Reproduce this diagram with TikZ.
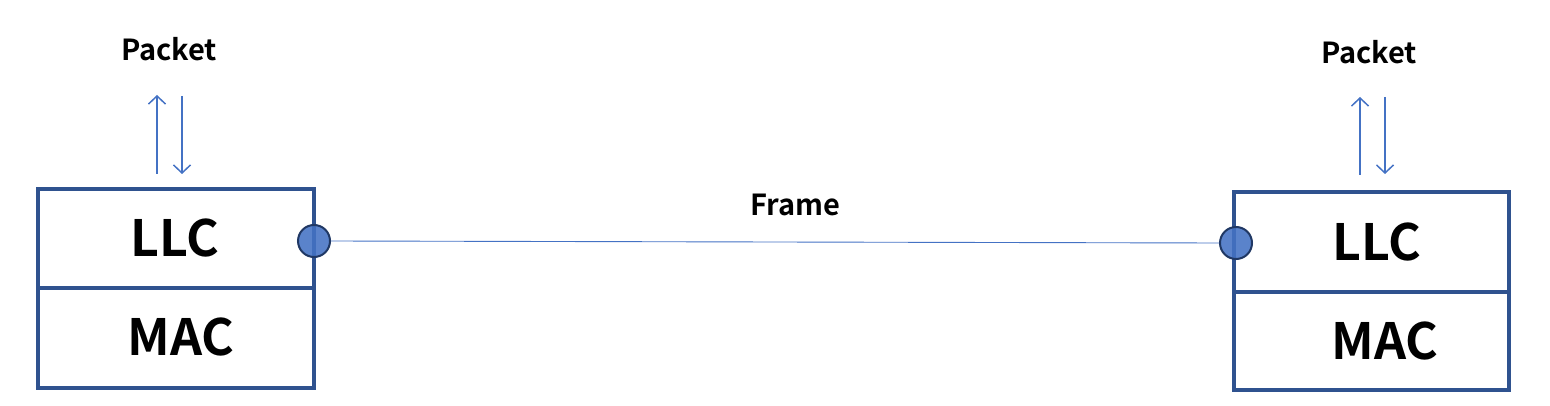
\documentclass[tikz,border=0pt]{standalone}
\usepackage{fontspec}
\setmainfont{Noto Sans CJK SC}[BoldFont={Noto Sans CJK SC Bold}]
\definecolor{boxblue}{HTML}{2F528F}
\definecolor{accent}{HTML}{4472C4}
\definecolor{rim}{HTML}{203864}
\usetikzlibrary{arrows.meta}
\tikzset{
  layer/.style={draw=boxblue, line width=3.6pt, fill=white},
  lbl/.style={font=\bfseries\fontsize{50}{60}\selectfont, text=black},
  small/.style={font=\bfseries\fontsize{29}{34}\selectfont, text=black},
  port/.style={circle, draw=rim, line width=2pt, fill=accent, fill opacity=0.88, draw opacity=1, minimum size=32pt, inner sep=0pt},
  flow/.style={draw=accent, line width=1.5pt, -{Straight Barb[length=8pt,width=17pt,line width=1.5pt]}},
  link/.style={draw=accent, line width=0.9pt}
}
\begin{document}
\begin{tikzpicture}[x=1pt,y=-1pt]
\useasboundingbox (0,0) rectangle (1550,406);
% left stack
\draw[layer] (38,189) rectangle (314,288);
\draw[layer] (38,288) rectangle (314,388);
\node[lbl] (llcL) at (175,238) {LLC};
\node[lbl] (macL) at (181,337) {MAC};
% right stack
\draw[layer] (1234,192) rectangle (1509,292);
\draw[layer] (1234,292) rectangle (1509,390);
\node[lbl] (llcR) at (1377,242) {LLC};
\node[lbl] (macR) at (1385,341) {MAC};
% link
\node[port] (pL) at (314,241) {};
\node[port] (pR) at (1236,243) {};
\draw[link] (pL.east) -- (pR.west);
\node[small] (frame) at (795,205) {Frame};
% packets
\node[small] (pkL) at (169,49) {Packet};
\node[small] (pkR) at (1369,52) {Packet};
\coordinate (lu1) at (157,174); \coordinate (lu2) at (157,95);
\coordinate (ld1) at (182,96); \coordinate (ld2) at (182,174);
\coordinate (ru1) at (1360,175); \coordinate (ru2) at (1360,97);
\coordinate (rd1) at (1385,97); \coordinate (rd2) at (1385,174);
\draw[flow] (lu1) -- (lu2);
\draw[flow] (ld1) -- (ld2);
\draw[flow] (ru1) -- (ru2);
\draw[flow] (rd1) -- (rd2);
\end{tikzpicture}
\end{document}
